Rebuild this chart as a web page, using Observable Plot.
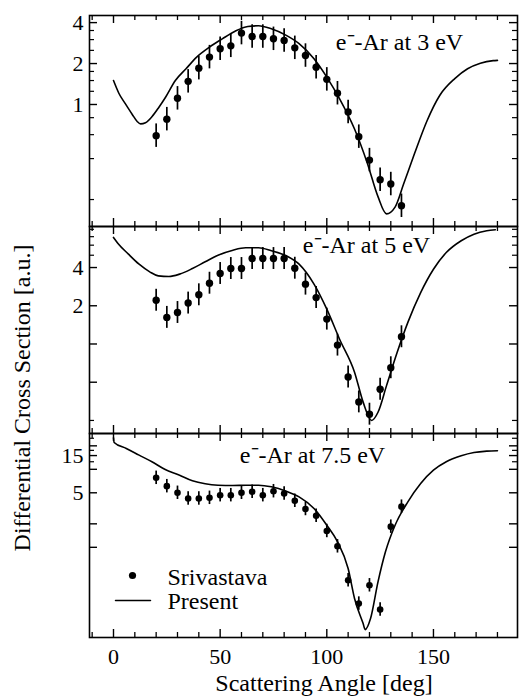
<!DOCTYPE html>
<html>
<head>
<meta charset="utf-8">
<script src="https://cdn.jsdelivr.net/npm/d3@7"></script>
<script src="https://cdn.jsdelivr.net/npm/@observablehq/plot@0.6"></script>
<style>
  body { margin: 0; background: white; }
  #wrap { position: relative; width: 520px; height: 696px; background: white; overflow: hidden;
          font-family: "Liberation Serif", "Times New Roman", serif; color: black; }
  .pan { position: absolute; left: 0; }
  .pan svg { background: transparent !important; overflow: visible; }
  #ytitle { position: absolute; left: -178px; top: 383px; width: 400px; height: 30px; line-height: 30px;
            text-align: center; font-size: 24px; transform: rotate(-90deg); white-space: nowrap; }
  #xtitle { position: absolute; left: 124px; top: 670px; width: 400px; height: 26px; line-height: 26px;
            text-align: center; font-size: 24px; white-space: nowrap; }
</style>
</head>
<body>
<div id="wrap">
  <div class="pan" id="p1" style="top:0px"></div>
  <div class="pan" id="p2" style="top:221px"></div>
  <div class="pan" id="p3" style="top:428px"></div>
  <div id="ytitle">Differential Cross Section [a.u.]</div>
  <div id="xtitle">Scattering Angle [deg]</div>
</div>
<script>
// ---- data ----
const angles = [20,25,30,35,40,45,50,55,60,65,70,75,80,85,90,95,100,105,110,115,120,125,130,135];
const srivastava3  = [0.59,0.78,1.11,1.48,1.85,2.23,2.57,2.70,3.35,3.16,3.16,3.04,2.96,2.61,2.29,1.88,1.53,1.21,0.88,0.58,0.39,0.28,0.26,0.18];
const srivastava5  = [2.21,1.62,1.77,2.10,2.44,3.01,3.59,3.93,3.93,4.71,4.71,4.71,4.71,3.95,2.96,2.32,1.57,0.98,0.55,0.35,0.28,0.44,0.65,1.14];
const srivastava75 = [7.78,6.08,5.00,4.23,4.23,4.31,4.66,4.66,5.00,5.15,4.66,5.24,4.90,3.95,3.10,2.54,1.62,1.03,0.378,0.190,0.326,0.159,1.84,3.32];
const errFactor = 1.22;

const present3Angles = [0,2.5,5.6,8.8,11.1,12.7,15,18.1,21.3,24.4,29,34,39,45,51,57,63,68,74,81,87,94,100,106,113,119,124,128,132,136,141,147,153,160,166,172,178,180];
const present3 = [1.50,1.21,1.01,0.845,0.75,0.72,0.734,0.816,0.955,1.13,1.50,1.83,2.23,2.64,3.04,3.46,3.75,3.79,3.60,3.22,2.80,2.17,1.59,1.10,0.66,0.37,0.21,0.157,0.176,0.26,0.43,0.76,1.17,1.55,1.83,2.01,2.10,2.11];

const present5Angles = [0,2,7,12,17,21,26,31,37,43,49,56,62,68,74,81,87,94,100,106,113,117,121,124,128,133,138,144,150,156,163,169,175,179];
const present5 = [6.90,6.22,5.10,4.25,3.70,3.44,3.40,3.55,3.93,4.44,5.00,5.48,5.72,5.72,5.42,4.95,4.25,2.96,1.88,1.09,0.60,0.35,0.25,0.29,0.47,0.86,1.48,2.54,3.88,5.25,6.50,7.32,7.79,7.93];

const present75Angles = [0,0.3,6,12,18,24,31,37,43,49,56,62,68,74,81,87,94,100,105,110,113,117,118,120.5,124,127.5,132,138,144,150,156,163,169,175,180];
const present75 = [25.4,22.1,18.5,15.2,12.5,10.0,8.41,7.12,6.52,6.26,6.20,6.26,6.26,5.97,5.24,4.44,3.15,1.92,1.18,0.535,0.221,0.106,0.088,0.122,0.361,0.876,1.92,3.83,6.58,9.75,12.5,14.9,16.4,17.1,17.3];

const xMajorTicks = [0,50,100,150];
const xMinorTicks = [-10,10,20,30,40,60,70,80,90,110,120,130,140,160,170,180];

const panelLabels = ["e\u207B-Ar at 3 eV", "e\u207B-Ar at 5 eV", "e\u207B-Ar at 7.5 eV"];
const legendLabels = ["Srivastava", "Present"];

const yLabels3 = [1,2,4],  yMajor3 = [1,2,4],      yMinor3 = [0.2,0.4,0.6,0.8,1.25,1.5,1.75,2.5,3,3.5];
const yLabels5 = [2,4],    yMajor5 = [0.5,1,2,4],  yMinor5 = [0.25,5,6,7,8];
const yLabels75 = [5,15],  yMajor75 = [1,2,5,10,15,20], yMinor75 = [12.5,17.5,25];

// ---- drawing ----
const FONT = "Liberation Serif, Times New Roman, serif";
const X_DOMAIN = [-11.25, 189.4];
const WIDTH = 520, ML = 89, MR = 3;
const PX_PER_DEG = (WIDTH - ML - MR) / (X_DOMAIN[1] - X_DOMAIN[0]);
const lineShape = {draw(context, l) { context.moveTo(0, 0); context.lineTo(0, -l); }};

function panel(opts) {
  const pts = angles.map((a, i) => ({a, v: opts.pts[i]}));
  const cur = opts.curveX.map((a, i) => ({a, v: opts.curveY[i]}));
  const fh = opts.height - opts.marginTop - opts.marginBottom;
  const [y0, y1] = opts.domain;
  const pxPerLog = fh / Math.log10(y1 / y0);
  // inward tick extents (fixed pixel lengths converted to the panel's scales)
  const up = len => y0 * Math.pow(10, len / pxPerLog);
  const down = len => y1 / Math.pow(10, len / pxPerLog);
  const xTick = (vals, len, sw) => [
    Plot.ruleX(vals, {x: d => d, y1: y0, y2: up(len), stroke: "black", strokeWidth: sw}),
    Plot.ruleX(vals, {x: d => d, y1: down(len), y2: y1, stroke: "black", strokeWidth: sw})
  ];
  const yTick = (vals, len, sw) => [
    Plot.ruleY(vals, {y: d => d, x1: X_DOMAIN[0], x2: X_DOMAIN[0] + len / PX_PER_DEG, stroke: "black", strokeWidth: sw}),
    Plot.ruleY(vals, {y: d => d, x1: X_DOMAIN[1] - len / PX_PER_DEG, x2: X_DOMAIN[1], stroke: "black", strokeWidth: sw})
  ];
  const marks = [
    ...xTick(xMinorTicks, 5, 1.3),
    ...xTick(xMajorTicks, 8, 1.4),
    ...yTick(opts.yMinor, 5, 1.2),
    ...yTick(opts.yMajor, 8, 1.4),
    Plot.frame({stroke: "black", strokeWidth: 1.6}),
    Plot.text(opts.yLabels, {y: d => d, text: d => String(d), frameAnchor: "left", dx: -6,
      textAnchor: "end", lineAnchor: "middle", fontSize: 22, fontFamily: FONT, fill: "black"}),
    Plot.line(cur, {x: "a", y: "v", curve: "monotone-x", stroke: "black", strokeWidth: 1.6}),
    Plot.ruleX(pts, {x: "a", y1: d => d.v / errFactor, y2: d => d.v * errFactor, stroke: "black", strokeWidth: 1.7}),
    Plot.dot(pts, {x: "a", y: "v", r: opts.r, fill: "black", stroke: "none"}),
    Plot.text([opts.label], {frameAnchor: "top-left", dx: opts.labelDx, dy: opts.labelDy,
      textAnchor: "middle", lineAnchor: "middle", fontSize: 24, fontFamily: FONT, fill: "black"})
  ];
  if (opts.xLabels) {
    marks.push(Plot.text(xMajorTicks, {x: d => d, text: d => String(d), frameAnchor: "bottom", dy: 19,
      textAnchor: "middle", lineAnchor: "middle", fontSize: 22, fontFamily: FONT, fill: "black"}));
  }
  if (opts.legend) {
    marks.push(
      Plot.dot([legendLabels[0]], {frameAnchor: "top-left", dx: 43, dy: 142, r: 3.6, fill: "black", stroke: "none"}),
      Plot.text([legendLabels[0]], {frameAnchor: "top-left", dx: 78, dy: 144, textAnchor: "start",
        lineAnchor: "middle", fontSize: 24, fontFamily: FONT, fill: "black"}),
      Plot.vector([legendLabels[1]], {frameAnchor: "top-left", dx: 26, dy: 167, length: 35, rotate: 90,
        anchor: "start", stroke: "black", strokeWidth: 1.5, shape: lineShape}),
      Plot.text([legendLabels[1]], {frameAnchor: "top-left", dx: 78, dy: 168, textAnchor: "start",
        lineAnchor: "middle", fontSize: 24, fontFamily: FONT, fill: "black"})
    );
  }
  return Plot.plot({
    width: WIDTH,
    height: opts.height,
    marginLeft: ML,
    marginRight: MR,
    marginTop: opts.marginTop,
    marginBottom: opts.marginBottom,
    style: {fontFamily: FONT, fontSize: "22px", color: "black", background: "transparent", overflow: "visible"},
    x: {domain: X_DOMAIN, label: null, axis: null},
    y: {type: "log", domain: opts.domain, label: null, axis: null},
    marks
  });
}

document.getElementById("p1").append(panel({
  pts: srivastava3, curveX: present3Angles, curveY: present3,
  domain: [0.1267, 4.512], yLabels: yLabels3, yMajor: yMajor3, yMinor: yMinor3,
  label: panelLabels[0], labelDx: 310, labelDy: 27, r: 3.7,
  height: 231, marginTop: 15, marginBottom: 5
}));
document.getElementById("p2").append(panel({
  pts: srivastava5, curveX: present5Angles, curveY: present5,
  domain: [0.1973, 8.418], yLabels: yLabels5, yMajor: yMajor5, yMinor: yMinor5,
  label: panelLabels[1], labelDx: 277, labelDy: 19, r: 3.7,
  height: 217, marginTop: 5, marginBottom: 5
}));
document.getElementById("p3").append(panel({
  pts: srivastava75, curveX: present75Angles, curveY: present75,
  domain: [0.0698, 28.78], yLabels: yLabels75, yMajor: yMajor75, yMinor: yMinor75,
  label: panelLabels[2], labelDx: 223, labelDy: 22, r: 3.3,
  height: 268, marginTop: 5, marginBottom: 59, xLabels: true, legend: true
}));
</script>
</body>
</html>
